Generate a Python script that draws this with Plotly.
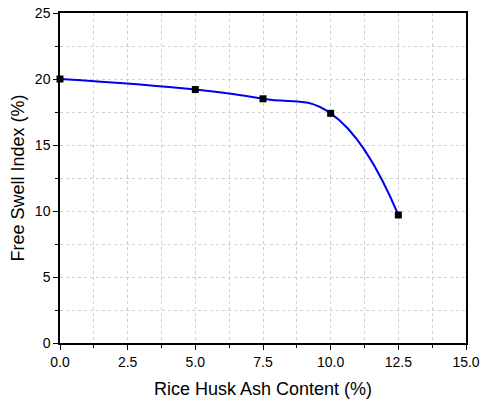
import plotly.graph_objects as go

rha_content = [0, 5, 7.5, 10, 12.5]
free_swell = [20.0, 19.2, 18.5, 17.4, 9.7]

fig = go.Figure()
fig.add_trace(go.Scatter(
    x=rha_content, y=free_swell,
    mode='lines+markers',
    line=dict(color='#0000ee', width=2, shape='spline', smoothing=1.3),
    marker=dict(symbol='square', size=7, color='black'),
    cliponaxis=False,
    showlegend=False,
))

grid = dict(showgrid=True, gridcolor='#d0d0d0', griddash='dot', gridwidth=1)

fig.update_layout(
    width=487, height=408,
    margin=dict(l=60, r=21, t=13, b=65),
    paper_bgcolor='white', plot_bgcolor='white',
    font=dict(family='Liberation Sans, Arial', color='black', size=14),
    xaxis=dict(
        range=[0, 15], dtick=2.5, tickformat='.1f', automargin=False,
        ticklabeloverflow='allow',
        showline=True, linecolor='black', linewidth=1.5, mirror=True,
        ticks='outside', ticklen=5, tickcolor='black',
        zeroline=False,
        title=dict(text='Rice Husk Ash Content (%)', font=dict(size=18, color='black'), standoff=14),
        minor=dict(dtick=1.25, ticks='outside', ticklen=3, tickcolor='black', **grid),
        **grid,
    ),
    yaxis=dict(
        range=[0, 25], dtick=5, automargin=False,
        ticklabeloverflow='allow',
        showline=True, linecolor='black', linewidth=1.5, mirror=True,
        ticks='outside', ticklen=5, tickcolor='black',
        zeroline=False,
        title=dict(text='Free Swell Index (%)', font=dict(size=18, color='black'), standoff=6),
        minor=dict(dtick=2.5, ticks='outside', ticklen=3, tickcolor='black', **grid),
        **grid,
    ),
)

# drop the default 8px body margin so the figure fills the window
fig.write_html("out.html", config={'displayModeBar': False},
               post_script="document.body.style.margin='0';")
